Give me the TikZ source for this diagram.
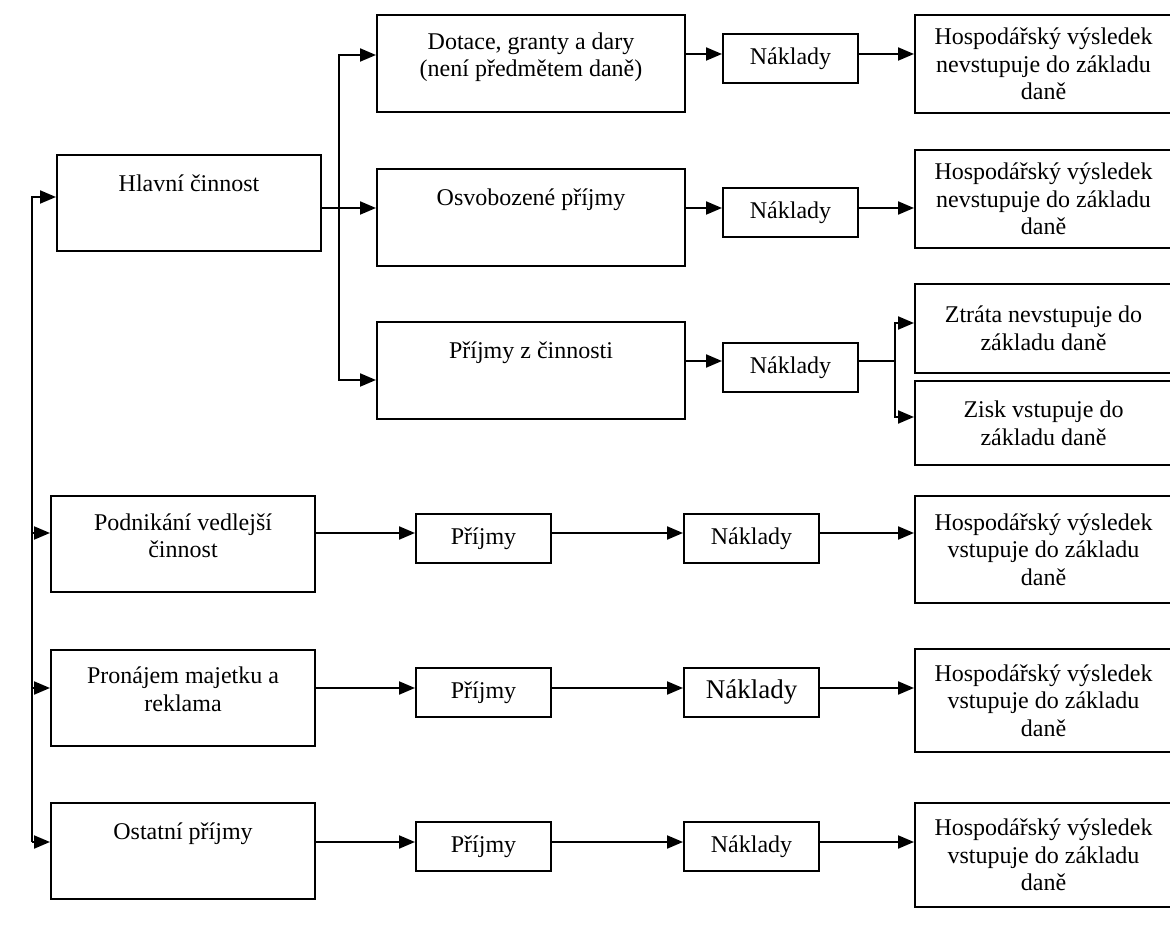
\documentclass[tikz,border=0pt]{standalone}
\usepackage{fontspec}
\setmainfont{Liberation Serif}
\usetikzlibrary{arrows.meta}

\tikzset{
  ramec/.style={draw, line width=1pt, inner sep=0pt, align=center},
  velky/.style={ramec, minimum width=132pt, minimum height=48pt},
  stredni/.style={ramec, minimum width=154pt, minimum height=48.5pt},
  maly/.style={ramec, minimum width=67.5pt, minimum height=24.5pt},
  vysl/.style={ramec, minimum width=128.5pt},
  popis/.style={anchor=north, inner sep=0pt, align=center, yshift=-9pt, execute at begin node=\strut},
  sipka/.style={line width=1pt, -{Triangle[length=8pt,width=6.5pt]}},
  cara/.style={line width=1pt}
}

\begin{document}
\begin{tikzpicture}[x=0.5pt, y=-0.5pt, font=\fontsize{12}{13.8}\selectfont]
  \useasboundingbox (0,0) rectangle (1170,929);

  % levy sloupec: cinnosti
  \node[velky, label={[popis]north:Hlavní činnost}] (hlavni) at (189,203) {};
  \node[velky, label={[popis]north:Podnikání vedlejší\\činnost}] (podnik) at (183,544) {};
  \node[velky, label={[popis]north:Pronájem majetku a\\reklama}] (pronaj) at (183,697.5) {};
  \node[velky, label={[popis]north:Ostatní příjmy}] (ostat) at (183,851) {};

  % hlavni cinnost se deli na tri druhy prijmu
  \node[stredni, label={[popis]north:Dotace, granty a dary\\(není předmětem daně)}] (dotace) at (531,63.5) {};
  \node[stredni, label={[popis]north:Osvobozené příjmy}] (osvob) at (531,217.5) {};
  \node[stredni, label={[popis]north:Příjmy z činnosti}] (prijcin) at (531,370.5) {};

  \node[maly] (nakl1) at (790.5,58.5) {Náklady};
  \node[maly] (nakl2) at (790.5,212.5) {Náklady};
  \node[maly] (nakl3) at (790.5,367.5) {Náklady};

  \node[vysl, minimum height=49pt] (hv1) at (1043.5,64) {Hospodářský výsledek\\nevstupuje do základu\\daně};
  \node[vysl, minimum height=49pt] (hv2) at (1043.5,199) {Hospodářský výsledek\\nevstupuje do základu\\daně};
  \node[vysl, minimum height=44.5pt] (ztrata) at (1043.5,328.5) {Ztráta nevstupuje do\\základu daně};
  \node[vysl, minimum height=42pt] (zisk) at (1043.5,423) {Zisk vstupuje do\\základu daně};

  % ostatni radky
  \node[maly] (prij4) at (483.5,538.5) {Příjmy};
  \node[maly] (prij5) at (483.5,692.5) {Příjmy};
  \node[maly] (prij6) at (483.5,846.5) {Příjmy};

  \node[maly] (nakl4) at (751.5,538.5) {Náklady};
  \node[maly, font=\fontsize{13.5}{15}\selectfont] (nakl5) at (751.5,692.5) {Náklady};
  \node[maly] (nakl6) at (751.5,846.5) {Náklady};

  \node[vysl, minimum height=53.5pt] (hv4) at (1043.5,549.5) {Hospodářský výsledek\\vstupuje do základu\\daně};
  \node[vysl, minimum height=51.5pt] (hv5) at (1043.5,700.5) {Hospodářský výsledek\\vstupuje do základu\\daně};
  \node[vysl, minimum height=52pt] (hv6) at (1043.5,855) {Hospodářský výsledek\\vstupuje do základu\\daně};

  % pomocne body pro vedeni car
  \coordinate (kmenH) at (32,197);
  \coordinate (kmenD) at (32,842);
  \coordinate (vetevH) at (339,55);
  \coordinate (vetevD) at (339,380);
  \coordinate (rozv) at (895,361);
  \coordinate (r1) at (0,54);
  \coordinate (r2) at (0,208);
  \coordinate (r3) at (0,361);
  \coordinate (r4) at (0,533);
  \coordinate (r5) at (0,688);
  \coordinate (r6) at (0,842);

  % kmen vlevo
  \draw[sipka] (kmenD) -- (kmenH) -- (kmenH -| hlavni.west);
  \draw[sipka] (kmenD) -- (kmenD -| ostat.west);
  \draw[sipka] (kmenH |- r4) -- (podnik.west |- r4);
  \draw[sipka] (kmenH |- r5) -- (pronaj.west |- r5);

  % vetveni hlavni cinnosti
  \draw[sipka] (hlavni.east |- r2) -- (osvob.west |- r2);
  \draw[sipka] (vetevD) -- (vetevH) -- (vetevH -| dotace.west);
  \draw[sipka] (vetevH |- r2) -- (vetevD) -- (vetevD -| prijcin.west);

  \draw[sipka] (dotace.east |- r1) -- (nakl1.west |- r1);
  \draw[sipka] (nakl1.east |- r1) -- (hv1.west |- r1);
  \draw[sipka] (osvob.east |- r2) -- (nakl2.west |- r2);
  \draw[sipka] (nakl2.east |- r2) -- (hv2.west |- r2);
  \draw[sipka] (prijcin.east |- r3) -- (nakl3.west |- r3);
  \draw[cara] (nakl3.east |- r3) -- (rozv);
  \draw[sipka] (rozv) |- ([yshift=2.75pt]ztrata.west);
  \draw[sipka] (rozv) |- ([yshift=3pt]zisk.west);

  % radky podnikani, pronajmu a ostatnich prijmu
  \foreach \a/\b/\c/\d/\r in {podnik/prij4/nakl4/hv4/r4, pronaj/prij5/nakl5/hv5/r5, ostat/prij6/nakl6/hv6/r6} {
    \draw[sipka] (\a.east |- \r) -- (\b.west |- \r);
    \draw[sipka] (\b.east |- \r) -- (\c.west |- \r);
    \draw[sipka] (\c.east |- \r) -- (\d.west |- \r);
  }
\end{tikzpicture}
\end{document}
